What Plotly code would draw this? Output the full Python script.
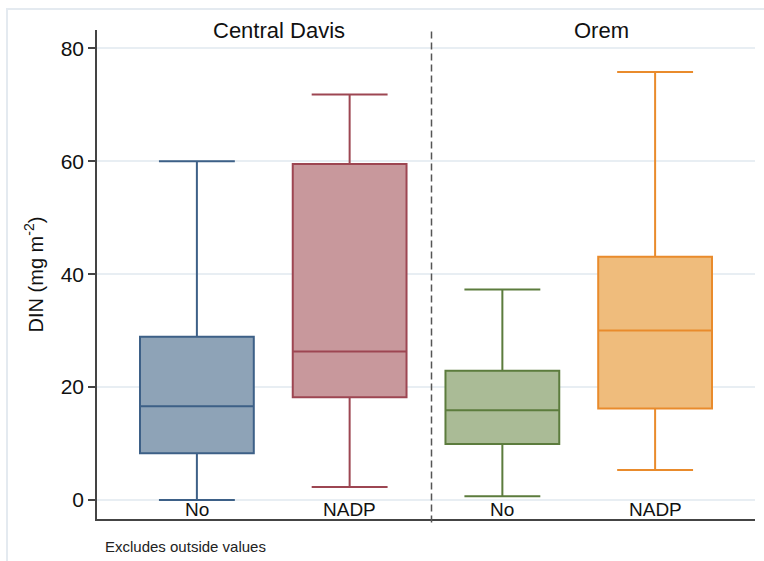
import plotly.graph_objects as go

# ---- data ----
groups = ["Central Davis", "Central Davis", "Orem", "Orem"]
categories = ["No", "NADP", "No", "NADP"]
lower_whisker = [0.0, 2.3, 0.65, 5.3]
q1 = [8.3, 18.2, 9.9, 16.2]
median = [16.6, 26.3, 15.9, 30.0]
q3 = [28.9, 59.5, 22.9, 43.1]
upper_whisker = [60.0, 71.8, 37.3, 75.8]
group_titles = ["Central Davis", "Orem"]
y_ticks = [0, 20, 40, 60, 80]

fills = ["#8ea3b7", "#c8989c", "#aabb96", "#efbc7c"]
lines = ["#3d6087", "#9d4652", "#5c7c3d", "#e98b2c"]

fig = go.Figure()
for i in range(len(categories)):
    fig.add_trace(go.Box(
        x=[i], q1=[q1[i]], median=[median[i]], q3=[q3[i]],
        lowerfence=[lower_whisker[i]], upperfence=[upper_whisker[i]],
        fillcolor=fills[i], line=dict(color=lines[i], width=2),
        width=0.745, whiskerwidth=0.667, boxpoints=False,
        name=groups[i] + " " + categories[i], showlegend=False,
        hoverinfo="skip",
    ))

font_family = "Liberation Sans, Arial, Helvetica, sans-serif"

annotations = []
for i, c in enumerate(categories):
    annotations.append(dict(x=i, xref="x", y=0, yref="paper", xanchor="center",
                            yanchor="bottom", yshift=-3, text=c, showarrow=False,
                            font=dict(size=19, color="#111", family=font_family)))
for gx, t in zip([0.2766, 0.766], group_titles):
    annotations.append(dict(x=gx, xref="paper", y=1, yref="paper", xanchor="center",
                            yanchor="middle", yshift=0, text=t, showarrow=False,
                            font=dict(size=22, color="#111", family=font_family)))
annotations.append(dict(x=0.0091, xref="paper", y=-0.057, yref="paper",
                        xanchor="left", yanchor="middle", text="Excludes outside values",
                        showarrow=False, font=dict(size=15, color="#222", family=font_family)))

shapes = [
    dict(type="line", xref="x", yref="paper", x0=1.536, x1=1.536, y0=-0.007, y1=1.002,
         line=dict(color="#555", width=1.5, dash="7px,4px")),
    dict(type="rect", xref="paper", yref="paper", x0=-0.1368, x1=1.05, y0=-0.1, y1=1.043,
         line=dict(color="#e4eaf0", width=2), layer="below"),
]

fig.update_layout(
    width=764, height=561,
    margin=dict(l=97, r=9, t=30, b=42),
    paper_bgcolor="white", plot_bgcolor="white",
    font=dict(family=font_family, color="#111"),
    annotations=annotations, shapes=shapes,
    xaxis=dict(range=[-0.654, 3.654], showticklabels=False, ticks="", showgrid=False,
               zeroline=False, showline=True, linecolor="#444", linewidth=1.5),
    yaxis=dict(range=[-3.365, 83.24], tickvals=y_ticks, ticks="outside", ticklen=7,
               tickcolor="#444", tickwidth=1.5, showline=True, linecolor="#444",
               linewidth=1.5, showgrid=True, gridcolor="#e8eef3", gridwidth=1.5,
               zeroline=False, tickfont=dict(size=21, color="#111"),
               title=dict(text="DIN (mg m<sup>-2</sup>)", font=dict(size=20, color="#111"),
                          standoff=12)),
)

fig.write_html("out.html")
